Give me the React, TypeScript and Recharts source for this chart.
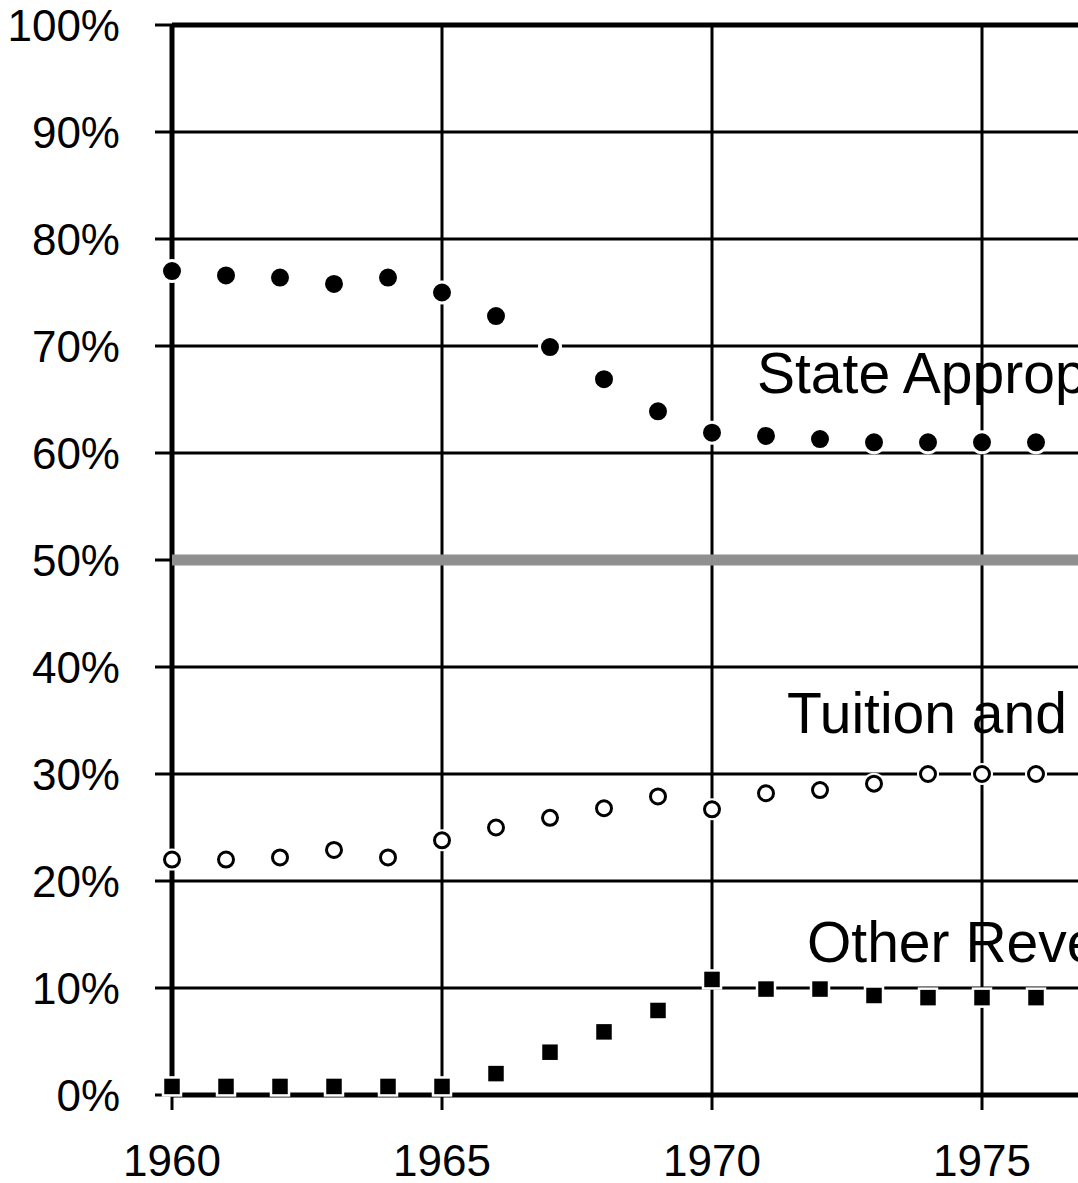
import React from 'react';
import {
  ScatterChart,
  Scatter,
  XAxis,
  YAxis,
  CartesianGrid,
  ReferenceLine,
} from 'recharts';

const FONT = '"Liberation Sans", Arial, Helvetica, sans-serif';

const years = [1960, 1961, 1962, 1963, 1964, 1965, 1966, 1967, 1968, 1969, 1970, 1971, 1972, 1973, 1974, 1975, 1976];
const stateAppropriations = [77.0, 76.6, 76.4, 75.8, 76.4, 75.0, 72.8, 69.9, 66.9, 63.9, 61.9, 61.6, 61.3, 61.0, 61.0, 61.0, 61.0];
const tuitionAndFees = [22.0, 22.0, 22.2, 22.9, 22.2, 23.8, 25.0, 25.9, 26.8, 27.9, 26.7, 28.2, 28.5, 29.1, 30.0, 30.0, 30.0];
const otherRevenue = [0.8, 0.8, 0.8, 0.8, 0.8, 0.8, 2.0, 4.0, 5.9, 7.9, 10.8, 9.9, 9.9, 9.3, 9.1, 9.1, 9.1];

const xTicks = [1960, 1965, 1970, 1975, 1980];
const yTicks = [0, 10, 20, 30, 40, 50, 60, 70, 80, 90, 100];

const toPoints = (values: number[]) => years.map((year, i) => ({ year, value: values[i] }));

const FilledDot = (props: any) => (
  <circle cx={props.cx} cy={props.cy} r={10.5} fill="#000" stroke="#fff" strokeWidth={3} />
);

const OpenDot = (props: any) => (
  <g>
    <circle cx={props.cx} cy={props.cy} r={11} fill="#fff" />
    <circle cx={props.cx} cy={props.cy} r={7.5} fill="#fff" stroke="#000" strokeWidth={3} />
  </g>
);

const SquareDot = (props: any) => (
  <rect x={props.cx - 9} y={props.cy - 9} width={18} height={18} fill="#000" stroke="#fff" strokeWidth={2.5} />
);

const labelStyle = { fontSize: 57, fontFamily: FONT, fill: '#000' };

// thick frame lines (left and bottom axis, top border) drawn as a grid so the markers sit above them
const frameVertical = ({ offset }: any) => [offset.left];
const frameHorizontal = ({ offset }: any) => [offset.top, offset.top + offset.height];

export default function App() {
  return (
    <div
      style={{
        position: 'absolute',
        left: 0,
        top: 0,
        width: 1078,
        height: 1183,
        overflow: 'hidden',
        background: '#fff',
      }}
    >
      <ScatterChart
        width={1300}
        height={1183}
        margin={{ top: 25, right: 48, bottom: 0, left: 0 }}
        style={{ fontFamily: FONT }}
      >
        <CartesianGrid stroke="#000" strokeWidth={3} />
        <XAxis
          type="number"
          dataKey="year"
          domain={[1960, 1980]}
          ticks={xTicks}
          height={88}
          tickSize={15}
          tickMargin={35}
          axisLine={false}
          tickLine={{ stroke: '#000', strokeWidth: 3 }}
          tick={{ fill: '#000', fontSize: 44, fontFamily: FONT }}
        />
        <YAxis
          type="number"
          dataKey="value"
          domain={[0, 100]}
          ticks={yTicks}
          width={172}
          tickSize={17}
          tickMargin={35}
          tickFormatter={(v: number) => `${v}%`}
          axisLine={false}
          tickLine={{ stroke: '#000', strokeWidth: 3 }}
          tick={{ fill: '#000', fontSize: 44, fontFamily: FONT }}
        />
        <ReferenceLine y={50} stroke="#8f8f8f" strokeWidth={11} />
        <CartesianGrid
          stroke="#000"
          strokeWidth={5}
          verticalCoordinatesGenerator={frameVertical}
          horizontalCoordinatesGenerator={frameHorizontal}
        />
        <text x={757} y={393} {...labelStyle}>State Appropriations</text>
        <text x={787} y={733} {...labelStyle}>Tuition and Fees</text>
        <text x={807} y={962} {...labelStyle}>Other Revenue</text>
        <Scatter name="State Appropriations" data={toPoints(stateAppropriations)} shape={FilledDot} isAnimationActive={false} />
        <Scatter name="Tuition and Fees" data={toPoints(tuitionAndFees)} shape={OpenDot} isAnimationActive={false} />
        <Scatter name="Other Revenue" data={toPoints(otherRevenue)} shape={SquareDot} isAnimationActive={false} />
      </ScatterChart>
    </div>
  );
}
